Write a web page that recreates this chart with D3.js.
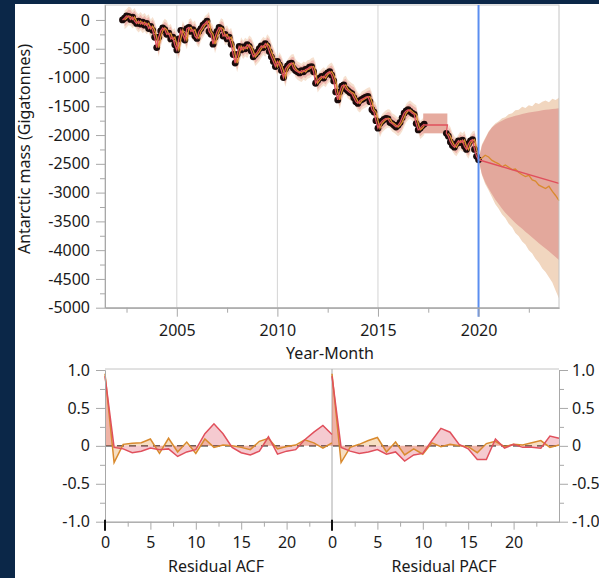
<!DOCTYPE html>
<html>
<head>
<meta charset="utf-8">
<script src="https://cdn.jsdelivr.net/npm/d3@7"></script>
<style>
  body { margin: 0; background: #0b2748; }
  svg { display: block; font-family: "Noto Sans", "Open Sans", sans-serif; }
</style>
</head>
<body>
<svg id="chart" width="599" height="578"></svg>
<script>
//=============================
//  Dados
//=============================
// massa observada (GRACE / GRACE-FO), Gt
const obsYear = [
  2002.3, 2002.4, 2002.5, 2002.6, 2002.7, 2002.8, 2002.9, 2003.0, 2003.1, 2003.2, 2003.3, 2003.4, 2003.5, 2003.6, 2003.7, 2003.8, 2003.9,
  2004.0, 2004.1, 2004.2, 2004.3, 2004.4, 2004.5, 2004.6, 2004.7, 2004.8, 2004.9,
  2005.0, 2005.1, 2005.2, 2005.3, 2005.4, 2005.5, 2005.6, 2005.7, 2005.8, 2005.9,
  2006.0, 2006.1, 2006.2, 2006.3, 2006.4, 2006.5, 2006.6, 2006.7, 2006.8, 2006.9,
  2007.0, 2007.1, 2007.2, 2007.3, 2007.4, 2007.5, 2007.6, 2007.7, 2007.8, 2007.9,
  2008.0, 2008.1, 2008.2, 2008.3, 2008.4, 2008.5, 2008.6, 2008.7, 2008.8, 2008.9,
  2009.0, 2009.1, 2009.2, 2009.3, 2009.4, 2009.5, 2009.6, 2009.7, 2009.8, 2009.9,
  2010.0, 2010.1, 2010.2, 2010.3, 2010.4, 2010.5, 2010.6, 2010.7, 2010.8, 2010.9,
  2011.0, 2011.1, 2011.2, 2011.3, 2011.4, 2011.5, 2011.6, 2011.7, 2011.8, 2011.9,
  2012.0, 2012.1, 2012.2, 2012.3, 2012.4, 2012.5, 2012.6, 2012.7, 2012.8, 2012.9,
  2013.0, 2013.1, 2013.2, 2013.3, 2013.4, 2013.5, 2013.6, 2013.7, 2013.8, 2013.9,
  2014.0, 2014.1, 2014.2, 2014.3, 2014.4, 2014.5, 2014.6, 2014.7, 2014.8, 2014.9,
  2015.0, 2015.1, 2015.2, 2015.3, 2015.4, 2015.5, 2015.6, 2015.7, 2015.8, 2015.9,
  2016.0, 2016.1, 2016.2, 2016.3, 2016.4, 2016.5, 2016.6, 2016.7, 2016.8, 2016.9,
  2017.0, 2017.1, 2017.2, 2017.3
];
const obsMass = [
  0, 30, 70, 60, 10, 50, -20, -60, -20, -70, -40, -90, -60, -150, -110, -180, -300,
  -480, -300, -190, -140, -170, -250, -230, -330, -300, -430,
  -520, -330, -180, -260, -350, -150, -130, -200, -170, -280,
  -320, -200, -150, -90, -60, -20, -200, -250, -420, -300,
  -200, -130, -150, -280, -250, -330, -300, -420, -600, -750,
  -600, -460, -520, -470, -500, -430, -460, -540, -640, -600,
  -560, -500, -450, -480, -410, -450, -550, -640, -720, -810,
  -720, -780, -880, -1000, -850, -800, -760, -750, -840, -880,
  -900, -920, -880, -900, -860, -850, -820, -810, -900, -1100,
  -1050, -1010, -980, -1010, -950, -920, -900, -960, -1060, -1250,
  -1390, -1250, -1150, -1130, -1200, -1230, -1260, -1280, -1350, -1420,
  -1450, -1400, -1380, -1360, -1340, -1330, -1420, -1560, -1600, -1750,
  -1880, -1800, -1760, -1730, -1710, -1720, -1780, -1800, -1830, -1860,
  -1830, -1780, -1700, -1620, -1580, -1560, -1590, -1620, -1640, -1800,
  -1910, -1880, -1840, -1810
];
// segunda missão (GRACE-FO)
const obs2Year = [2018.4, 2018.5, 2018.6, 2018.7, 2018.8, 2018.9, 2019.0, 2019.1, 2019.2, 2019.3, 2019.4, 2019.5, 2019.6, 2019.7, 2019.8, 2019.9, 2020.0];
const obs2Mass = [-1970, -2020, -2120, -2180, -2210, -2150, -2100, -2130, -2090, -2200, -2250, -2150, -2100, -2080, -2250, -2370, -2430];

// previsão no intervalo sem dados
const gapYear = [2017.25, 2018.45];
const gapLevel = -1825;
const gapUpper = -1625;
const gapLower = -1970;

// meia-largura dos intervalos de previsão a um passo
const bandInner = 110;
const bandOuter = 160;

// previsão 2020-2024
const fcYear = [2020.0, 2020.17, 2020.33, 2020.5, 2020.67, 2020.83, 2021.0, 2021.17, 2021.33, 2021.5, 2021.67, 2021.83,
  2022.0, 2022.17, 2022.33, 2022.5, 2022.67, 2022.83, 2023.0, 2023.17, 2023.33, 2023.5, 2023.67, 2023.83, 2024.0];
const fcOrange = [-2430, -2400, -2350, -2380, -2440, -2470, -2500, -2550, -2520, -2560, -2600, -2590,
  -2650, -2690, -2720, -2700, -2780, -2800, -2870, -2900, -2930, -2890, -2980, -3050, -3140];
const redUpper = [-2430, -2180, -2070, -1950, -1870, -1820, -1780, -1750, -1720, -1700, -1680, -1665,
  -1650, -1635, -1620, -1610, -1600, -1590, -1580, -1570, -1562, -1555, -1548, -1541, -1535];
const redLower = [-2430, -2680, -2820, -2930, -3030, -3120, -3200, -3280, -3350, -3410, -3470, -3530,
  -3580, -3630, -3680, -3730, -3780, -3830, -3880, -3930, -3970, -4020, -4070, -4120, -4170];
const tanUpper = [-2430, -2160, -2050, -1940, -1860, -1800, -1760, -1710, -1690, -1640, -1620, -1570,
  -1560, -1510, -1530, -1480, -1500, -1440, -1460, -1420, -1400, -1430, -1370, -1390, -1350];
const tanLower = [-2430, -2700, -2850, -2960, -3080, -3200, -3280, -3380, -3440, -3540, -3600, -3700,
  -3760, -3850, -3900, -4000, -4060, -4150, -4220, -4320, -4380, -4470, -4560, -4700, -4840];
const trendYear = [2020.0, 2024.0];
const trendMass = [-2430, -2840];

// ACF / PACF dos resíduos (lags 0..25)
const lags = d3.range(0, 26);
const acfRed = [0.92, -0.02, -0.04, -0.09, -0.07, -0.03, -0.05, -0.04, -0.14, -0.08, -0.05, 0.16, 0.29,
  0.16, -0.02, -0.09, -0.12, -0.07, 0.12, -0.11, -0.07, -0.05, 0.08, 0.18, 0.27, 0.15];
const acfOrange = [0.95, -0.22, 0.02, 0.035, 0.04, 0.09, -0.1, 0.1, -0.08, 0.05, -0.1, 0.09, -0.02,
  0.01, 0.0, -0.02, -0.05, 0.06, 0.1, -0.04, -0.01, 0.01, 0.08, 0.04, -0.03, 0.04];
const pacfRed = [0.92, -0.02, -0.07, -0.1, -0.08, -0.05, -0.11, -0.08, -0.2, -0.12, -0.1, 0.07, 0.23,
  0.18, 0.02, -0.04, -0.18, -0.18, 0.09, -0.03, 0.02, -0.02, -0.02, -0.03, 0.13, 0.1];
const pacfOrange = [0.95, -0.22, -0.02, 0.02, 0.07, 0.11, -0.08, 0.05, -0.12, -0.04, -0.11, 0.04, -0.01,
  0.02, 0.0, -0.01, -0.09, 0.03, 0.06, -0.01, 0.02, 0.01, 0.04, 0.07, -0.02, 0.01];

const yearTicks = [2005, 2010, 2015, 2020];
const yearMinor = [2002.5, 2007.5, 2012.5, 2017.5, 2022.5];
const massTicks = d3.range(-5000, 1, 500);
const massMinor = d3.range(-4750, 1, 500);
const lagTicks = [0, 5, 10, 15, 20];
const lagMinor = [2.5, 7.5, 12.5, 17.5, 22.5];
const corrTicks = [-1, -0.5, 0, 0.5, 1];
const corrMinor = [-0.75, -0.25, 0.25, 0.75];

//=============================
//  Cores
//=============================
const cRed = "#e0505c";
const cOrange = "#d98a2e";
const cGrid = "#d4d4d4";
const cAxis = "#a8a8a8";
const cText = "#1a1a1a";
const fontSize = "16px";

const svg = d3.select("#chart");

// painel branco
svg.append("rect").attr("x", 15).attr("y", 4).attr("width", 584).attr("height", 574).attr("fill", "white");

//===================================
//  Gráfico de cima - série temporal
//===================================
const x = d3.scaleLinear().domain([2001.43, 2024.0]).range([105, 559]);
const y = d3.scaleLinear().domain([-5000, 260]).range([307.7, 5]);

const gTop = svg.append("g");

// grelha vertical
gTop.selectAll(".grid")
  .data(yearTicks.filter((d) => d < 2020))
  .join("line")
  .attr("x1", (d) => x(d)).attr("x2", (d) => x(d))
  .attr("y1", y.range()[1]).attr("y2", y.range()[0])
  .attr("stroke", cGrid).attr("stroke-width", 1);

const obs = obsYear.map((d, i) => ({ t: d, v: obsMass[i] }));
const obs2 = obs2Year.map((d, i) => ({ t: d, v: obs2Mass[i] }));
// previsão a um passo = valor anterior
const pred1 = obs.slice(1).map((d, i) => ({ t: d.t, v: obs[i].v }));
const pred2 = obs2.slice(1).map((d, i) => ({ t: d.t, v: obs2[i].v }));

function band(data, w) {
  return d3.area().x((d) => x(d.t)).y0((d) => y(d.v - w)).y1((d) => y(d.v + w))(data);
}
[pred1, pred2].forEach((p) => {
  gTop.append("path").attr("d", band(p, bandOuter)).attr("fill", "rgba(238,200,170,0.55)");
  gTop.append("path").attr("d", band(p, bandInner)).attr("fill", "rgba(232,140,140,0.5)");
});

// intervalo sem dados
gTop.append("rect")
  .attr("x", x(gapYear[0])).attr("width", x(gapYear[1]) - x(gapYear[0]))
  .attr("y", y(gapUpper)).attr("height", y(gapLower) - y(gapUpper))
  .attr("fill", "#e6ab9f");

// cones de previsão
const fc = fcYear.map((d, i) => ({ t: d, o: fcOrange[i], ru: redUpper[i], rl: redLower[i], tu: tanUpper[i], tl: tanLower[i] }));
gTop.append("path")
  .attr("d", d3.area().x((d) => x(d.t)).y0((d) => y(d.tl)).y1((d) => y(d.tu))(fc))
  .attr("fill", "#f1d6bf");
gTop.append("path")
  .attr("d", d3.area().x((d) => x(d.t)).y0((d) => y(d.rl)).y1((d) => y(d.ru))(fc))
  .attr("fill", "#e3a89c");

// pontos observados
gTop.selectAll(".dot")
  .data(obs.concat(obs2))
  .join("circle")
  .attr("cx", (d) => x(d.t)).attr("cy", (d) => y(d.v))
  .attr("r", 3.4).attr("fill", "#1a0b0b");

const line = d3.line().x((d) => x(d.t)).y((d) => y(d.v));
[pred1, pred2].forEach((p) => {
  gTop.append("path").attr("d", line(p)).attr("fill", "none").attr("stroke", cOrange).attr("stroke-width", 1.4);
});
// linha vermelha: observado + intervalo sem dados
const redHist = obs.concat([{ t: gapYear[0], v: gapLevel }, { t: gapYear[1], v: gapLevel }], obs2);
gTop.append("path").attr("d", line(redHist)).attr("fill", "none").attr("stroke", cRed).attr("stroke-width", 1.3);

gTop.append("path")
  .attr("d", line(fc.map((d) => ({ t: d.t, v: d.o }))))
  .attr("fill", "none").attr("stroke", cOrange).attr("stroke-width", 1.3);
gTop.append("path")
  .attr("d", line(trendYear.map((d, i) => ({ t: d, v: trendMass[i] }))))
  .attr("fill", "none").attr("stroke", cRed).attr("stroke-width", 1.5);

// moldura
gTop.append("rect")
  .attr("x", 105).attr("y", 5).attr("width", 559 - 105).attr("height", y(-5000) - 5)
  .attr("fill", "none").attr("stroke", "#c4c4c4");

// linha azul 2020
gTop.append("line")
  .attr("x1", x(2020)).attr("x2", x(2020))
  .attr("y1", 5).attr("y2", y(-5000) + 9)
  .attr("stroke", "#5b8ef0").attr("stroke-width", 2);

//============Eixos============
function styleAxis(g) {
  g.select(".domain").attr("stroke", cAxis);
  g.selectAll(".tick line").attr("stroke", cAxis);
  g.selectAll("text").attr("fill", cText).style("font-size", fontSize).style("font-family", '"Noto Sans", sans-serif');
}

gTop.append("g")
  .attr("transform", `translate(105,0)`)
  .call(d3.axisLeft(y).tickValues(massTicks).tickSize(9).tickSizeOuter(0).tickPadding(6).tickFormat((d) => String(d)))
  .call(styleAxis);
gTop.append("g")
  .attr("transform", `translate(105,0)`)
  .call(d3.axisLeft(y).tickValues(massMinor).tickSize(5).tickSizeOuter(0).tickFormat(""))
  .call(styleAxis);

gTop.append("g")
  .attr("transform", `translate(0,${y(-5000)})`)
  .call(d3.axisBottom(x).tickValues(yearTicks).tickSize(9).tickSizeOuter(0).tickPadding(8).tickFormat(d3.format("d")))
  .call(styleAxis);
gTop.append("g")
  .attr("transform", `translate(0,${y(-5000)})`)
  .call(d3.axisBottom(x).tickValues(yearMinor).tickSize(5).tickSizeOuter(0).tickFormat(""))
  .call(styleAxis);

gTop.append("text")
  .attr("x", 330).attr("y", 359)
  .attr("text-anchor", "middle").attr("fill", cText).style("font-size", fontSize)
  .text("Year-Month");

gTop.append("text")
  .attr("transform", "translate(30,149) rotate(-90)")
  .attr("text-anchor", "middle").attr("fill", cText).style("font-size", fontSize)
  .text("Antarctic mass (Gigatonnes)");

//===================================
//  Gráficos de baixo - ACF e PACF
//===================================
const yc = d3.scaleLinear().domain([-1, 1]).range([521.7, 370]);
const xa = d3.scaleLinear().domain([0, 25]).range([105, 332]);
const xp = d3.scaleLinear().domain([0, 25]).range([332, 559]);

const gBottom = svg.append("g");

// moldura de cima e separador
gBottom.append("line").attr("x1", 105).attr("x2", 559).attr("y1", 369).attr("y2", 369).attr("stroke", "#c4c4c4");
gBottom.append("line").attr("x1", 332).attr("x2", 332).attr("y1", 369).attr("y2", 521.7).attr("stroke", "#a8a8a8");

// linha zero tracejada
gBottom.append("line")
  .attr("x1", 105).attr("x2", 559).attr("y1", yc(0)).attr("y2", yc(0))
  .attr("stroke", "#222").attr("stroke-width", 1.3).attr("stroke-dasharray", "7,5");

function drawCorr(xs, red, orange) {
  const ptsR = lags.map((l, i) => ({ l: l, v: red[i] }));
  const ptsO = lags.map((l, i) => ({ l: l, v: orange[i] }));
  const area = d3.area().x((d) => xs(d.l)).y0(yc(0)).y1((d) => yc(d.v));
  const ln = d3.line().x((d) => xs(d.l)).y((d) => yc(d.v));
  gBottom.append("path").attr("d", area(ptsO)).attr("fill", "rgba(230,160,80,0.35)");
  gBottom.append("path").attr("d", area(ptsR)).attr("fill", "rgba(225,90,110,0.32)");
  gBottom.append("path").attr("d", ln(ptsO)).attr("fill", "none").attr("stroke", cOrange).attr("stroke-width", 1.5);
  gBottom.append("path").attr("d", ln(ptsR)).attr("fill", "none").attr("stroke", cRed).attr("stroke-width", 1.5);
}
drawCorr(xa, acfRed, acfOrange);
drawCorr(xp, pacfRed, pacfOrange);

const corrFmt = (d) => (d === 0 ? "0" : d3.format(".1f")(d).replace("−", "-"));

gBottom.append("g")
  .attr("transform", "translate(105,0)")
  .call(d3.axisLeft(yc).tickValues(corrTicks).tickSize(9).tickSizeOuter(0).tickPadding(6).tickFormat(corrFmt))
  .call(styleAxis);
gBottom.append("g")
  .attr("transform", "translate(105,0)")
  .call(d3.axisLeft(yc).tickValues(corrMinor).tickSize(5).tickSizeOuter(0).tickFormat(""))
  .call(styleAxis);
gBottom.append("g")
  .attr("transform", "translate(559,0)")
  .call(d3.axisRight(yc).tickValues(corrTicks).tickSize(9).tickSizeOuter(0).tickPadding(4).tickFormat(corrFmt))
  .call(styleAxis);
gBottom.append("g")
  .attr("transform", "translate(559,0)")
  .call(d3.axisRight(yc).tickValues(corrMinor).tickSize(5).tickSizeOuter(0).tickFormat(""))
  .call(styleAxis);

[xa, xp].forEach((xs) => {
  gBottom.append("g")
    .attr("transform", `translate(0,${yc(-1)})`)
    .call(d3.axisBottom(xs).tickValues(lagTicks).tickSize(8).tickSizeOuter(0).tickPadding(7).tickFormat(d3.format("d")))
    .call(styleAxis);
  gBottom.append("g")
    .attr("transform", `translate(0,${yc(-1)})`)
    .call(d3.axisBottom(xs).tickValues(lagMinor).tickSize(5).tickSizeOuter(0).tickFormat(""))
    .call(styleAxis);
  // marca preta no lag 0
  gBottom.append("line")
    .attr("x1", xs(0)).attr("x2", xs(0)).attr("y1", yc(-1) - 2).attr("y2", yc(-1) + 9)
    .attr("stroke", "#111").attr("stroke-width", 2);
});

gBottom.append("text")
  .attr("x", 216).attr("y", 572)
  .attr("text-anchor", "middle").attr("fill", cText).style("font-size", fontSize)
  .text("Residual ACF");
gBottom.append("text")
  .attr("x", 444).attr("y", 572)
  .attr("text-anchor", "middle").attr("fill", cText).style("font-size", fontSize)
  .text("Residual PACF");
</script>
</body>
</html>
